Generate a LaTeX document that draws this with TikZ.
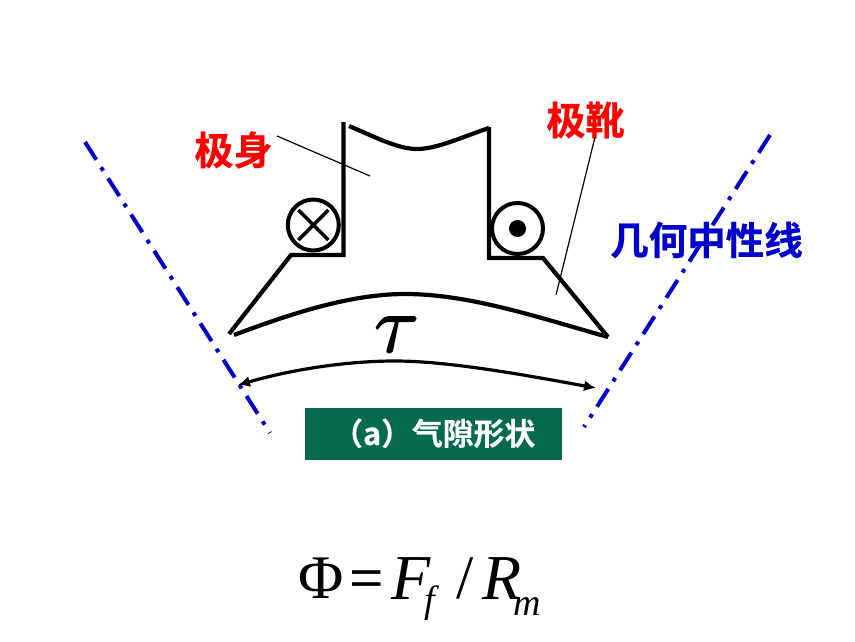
\documentclass[tikz,border=0pt]{standalone}
\usepackage{fontspec}
\usetikzlibrary{arrows.meta}
\newfontfamily\cjk[FakeBold=0.7]{Noto Sans CJK SC Bold}
\newfontfamily\cjkcap[FakeBold=0.3]{Noto Sans CJK SC Bold}
\newfontfamily\formfont{Liberation Serif}
\newfontfamily\formeq[FakeBold=0.6]{Liberation Serif}
\newfontfamily\formit{Liberation Serif Italic}
\newfontfamily\taufont[FakeBold=1.5]{Latin Modern Math}
\definecolor{labelred}{RGB}{255,0,0}
\definecolor{neutralblue}{RGB}{0,0,204}
\definecolor{boxgreen}{RGB}{6,106,78}
\tikzset{
  x=1pt,y=-1pt,
  pole/.style={line width=4.2pt,line join=miter,line cap=butt,black},
  leader/.style={line width=1.2pt,black},
  neutral/.style={line width=4pt,neutralblue,dash pattern=on 21pt off 9pt on 4pt off 9pt},
  coil/.style={circle,draw=black,line width=4pt,minimum size=51pt,inner sep=0pt},
  redlabel/.style={font=\cjk\fontsize{39}{39}\selectfont,text=labelred,inner sep=0pt},
  formula/.style={inner sep=0pt,anchor=base west}
}
\begin{document}
\begin{tikzpicture}
\useasboundingbox (0,0) rectangle (855,641);
% neutral lines
\coordinate (nla) at (85,142); \coordinate (nlb) at (270,433);
\coordinate (nra) at (770,135); \coordinate (nrb) at (584,427);
\draw[neutral] (nla) -- (nlb);
\draw[neutral] (nra) -- (nrb);
% pole outline
\coordinate (lt) at (343.5,122); \coordinate (lb) at (343.5,255); \coordinate (ls) at (291,255); \coordinate (lf) at (229,334);
\coordinate (rt) at (489,127); \coordinate (rb) at (489,258); \coordinate (rs) at (543,258); \coordinate (rf) at (608,337);
\draw[pole] (lt) -- (lb) -- (ls) -- (lf);
\draw[pole] (rt) -- (rb) -- (rs) -- (rf);
\draw[pole] (349,126) .. controls (375,137) and (398,149) .. (417,149) .. controls (437,149) and (462,137) .. (489,128);
\draw[pole] (234,335) .. controls (290,314) and (350,294) .. (405,294) .. controls (470,294) and (540,318) .. (608,337);
% coils
\node[coil] (cl) at (313.3,225) {};
\draw[line width=3.6pt] (cl.center) ++(-15,-15) coordinate (xa) -- ++(30,30) coordinate (xb);
\draw[line width=3.6pt] (cl.center) ++(15,-15) coordinate (xc) -- ++(-30,30) coordinate (xd);
\node[coil] (cr) at (517.5,228.5) {};
\fill (cr.center) circle (8.5);
% labels and leaders
\node[redlabel] (shen) at (233.5,150) {极身};
\node[redlabel] (xue) at (585.5,120) {极靴};
\node[font=\cjk\fontsize{38.5}{38.5}\selectfont,text=neutralblue,inner sep=0pt] (nlabel) at (706.5,240) {几何中性线};
\coordinate (sa) at (277,136); \coordinate (sb) at (370,176);
\coordinate (xa2) at (595,137); \coordinate (xb2) at (556,295);
\draw[leader] (sa) -- (sb);
\draw[leader] (xa2) -- (xb2);
% pitch
\node[font=\taufont\fontsize{82}{82}\selectfont,inner sep=0pt,anchor=base] (tau) at (392,352) {𝜏};
\coordinate (da) at (238,385); \coordinate (db) at (596,388);
\draw[line width=3.2pt,{Latex[length=12pt,width=11pt]}-{Latex[length=12pt,width=11pt]}] (da) .. controls (290,370) and (345,361) .. (395,361) .. controls (450,361) and (530,376) .. (db);
% caption
\node[fill=boxgreen,minimum width=257pt,minimum height=52pt,inner sep=0pt,anchor=north west] (cap) at (305,408) {};
\node[font=\cjkcap\fontsize{30.8}{30.8}\selectfont,text=white,inner sep=0pt,anchor=base west] (captext) at (332,445) {（a）气隙形状};
% formula
\node[formula,font=\formfont\fontsize{62}{62}\selectfont] (phi) at (298,598) {Φ};
\node[formula,font=\formeq\fontsize{60}{60}\selectfont] (eq) at (349,598) {=};
\node[formula,font=\formit\fontsize{64}{64}\selectfont] (ff) at (391,599) {F};
\node[formula,font=\formit\fontsize{38}{38}\selectfont] (fs) at (424,612) {f};
\node[formula,font=\formfont\fontsize{62}{62}\selectfont] (sl) at (456,598) {/};
\node[formula,font=\formit\fontsize{64}{64}\selectfont] (rr) at (482,599) {R};
\node[formula,font=\formit\fontsize{38}{38}\selectfont] (rs2) at (513,615) {m};
\end{tikzpicture}
\end{document}
